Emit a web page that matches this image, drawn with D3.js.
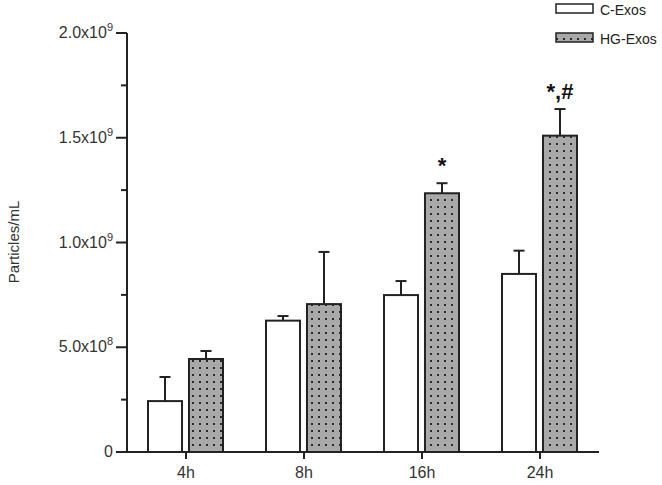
<!DOCTYPE html>
<html><head><meta charset="utf-8">
<script src="https://cdn.jsdelivr.net/npm/d3@7"></script>
<style>body{margin:0;background:#fff;}svg{display:block;}</style>
</head><body>
<script>
const categories = ["4h", "8h", "16h", "24h"];
const series = ["C-Exos", "HG-Exos"];
const cExos = [0.243e9, 0.627e9, 0.749e9, 0.850e9];
const cExosErr = [0.115e9, 0.022e9, 0.067e9, 0.111e9];
const hgExos = [0.444e9, 0.706e9, 1.235e9, 1.510e9];
const hgExosErr = [0.038e9, 0.249e9, 0.048e9, 0.127e9];
const annotations = ["", "", "*", "*,#"];
const majorTicks = [0, 0.5e9, 1.0e9, 1.5e9, 2.0e9];
const tickLabels = [["0", null], ["5.0x10", "8"], ["1.0x10", "9"], ["1.5x10", "9"], ["2.0x10", "9"]];
const minorTicks = [0.25e9, 0.75e9, 1.25e9, 1.75e9];

const W = 662, H = 485;
const svg = d3.select("body").append("svg").attr("width", W).attr("height", H);
const defs = svg.append("defs");
const pat = defs.append("pattern").attr("id", "dots").attr("patternUnits", "userSpaceOnUse")
  .attr("width", 7).attr("height", 7);
pat.append("rect").attr("width", 7).attr("height", 7).attr("fill", "#a9a9a9");
pat.append("rect").attr("x", 3).attr("y", 3).attr("width", 2).attr("height", 2).attr("fill", "#2a2a2a");

const x0 = 127, x1 = 599, y0 = 452, yTop = 33;
const x = d3.scaleBand().domain(categories).range([x0, x1]).paddingInner(0).paddingOuter(0);
const xs = d3.scaleBand().domain(series).range([21, 96]).paddingInner(0.17).paddingOuter(0);
const y = d3.scaleLinear().domain([0, 2.0e9]).range([y0, yTop]);

const ink = "#222";
const font = "Liberation Sans, Arial, sans-serif";
const data = categories.map((c, i) => ({c, vals: [
  {s: "C-Exos", v: cExos[i], e: cExosErr[i]},
  {s: "HG-Exos", v: hgExos[i], e: hgExosErr[i]}]}));

const g = svg.append("g");
data.forEach((d, i) => {
  d.vals.forEach(b => {
    const bx = x(d.c) + xs(b.s);
    const bw = xs.bandwidth();
    const cx = bx + bw / 2;
    g.append("line").attr("x1", cx).attr("x2", cx).attr("y1", y(b.v)).attr("y2", y(b.v + b.e))
      .attr("stroke", ink).attr("stroke-width", 2);
    g.append("line").attr("x1", cx - 5.5).attr("x2", cx + 5.5).attr("y1", y(b.v + b.e)).attr("y2", y(b.v + b.e))
      .attr("stroke", ink).attr("stroke-width", 2);
    g.append("rect").attr("x", bx).attr("y", y(b.v)).attr("width", bw).attr("height", y0 - y(b.v))
      .attr("fill", b.s === "C-Exos" ? "#fff" : "url(#dots)")
      .attr("stroke", ink).attr("stroke-width", 2);
  });
  if (annotations[i]) {
    const b = d.vals[1];
    const cx = x(d.c) + xs(b.s) + xs.bandwidth() / 2;
    g.append("text").attr("x", cx).attr("y", y(b.v + b.e) - 10).attr("text-anchor", "middle")
      .attr("font-family", font).attr("font-size", 22).attr("font-weight", "bold")
      .attr("fill", "#111").text(annotations[i]);
  }
});

const ax = svg.append("g");
ax.append("line").attr("x1", x0).attr("x2", x0).attr("y1", y0 + 1).attr("y2", yTop).attr("stroke", ink).attr("stroke-width", 2);
ax.append("line").attr("x1", x0 - 1).attr("x2", x1).attr("y1", y0).attr("y2", y0).attr("stroke", ink).attr("stroke-width", 2);
majorTicks.forEach((t, i) => {
  ax.append("line").attr("x1", x0 - 11).attr("x2", x0).attr("y1", y(t)).attr("y2", y(t)).attr("stroke", ink).attr("stroke-width", 2);
  const lab = tickLabels[i];
  const tx = ax.append("text").attr("x", 113).attr("y", y(t) + 5).attr("text-anchor", "end")
    .attr("font-family", font).attr("font-size", 16).attr("fill", "#333");
  tx.append("tspan").text(lab[0]);
  if (lab[1]) tx.append("tspan").attr("font-size", 11).attr("dy", -7).text(lab[1]);
});
minorTicks.forEach(t => {
  ax.append("line").attr("x1", x0 - 6).attr("x2", x0).attr("y1", y(t)).attr("y2", y(t)).attr("stroke", ink).attr("stroke-width", 2);
});
categories.forEach(c => {
  const cx = x(c) + x.bandwidth() / 2;
  ax.append("line").attr("x1", cx).attr("x2", cx).attr("y1", y0).attr("y2", y0 + 7).attr("stroke", ink).attr("stroke-width", 2);
  ax.append("text").attr("x", cx).attr("y", y0 + 26).attr("text-anchor", "middle")
    .attr("font-family", font).attr("font-size", 16).attr("fill", "#333").text(c);
});
svg.append("text").attr("transform", "translate(19,242) rotate(-90)").attr("text-anchor", "middle")
  .attr("font-family", font).attr("font-size", 15).attr("fill", "#333").text("Particles/mL");

const leg = svg.append("g");
series.forEach((s, i) => {
  const ly = 4 + i * 29;
  leg.append("rect").attr("x", 556).attr("y", ly).attr("width", 37).attr("height", 9)
    .attr("fill", i === 0 ? "#fff" : "url(#dots)").attr("stroke", ink).attr("stroke-width", 1.5);
  leg.append("text").attr("x", 600).attr("y", ly + 11).attr("font-family", font)
    .attr("font-size", 14).attr("fill", "#222").text(s);
});
</script>
</body></html>
